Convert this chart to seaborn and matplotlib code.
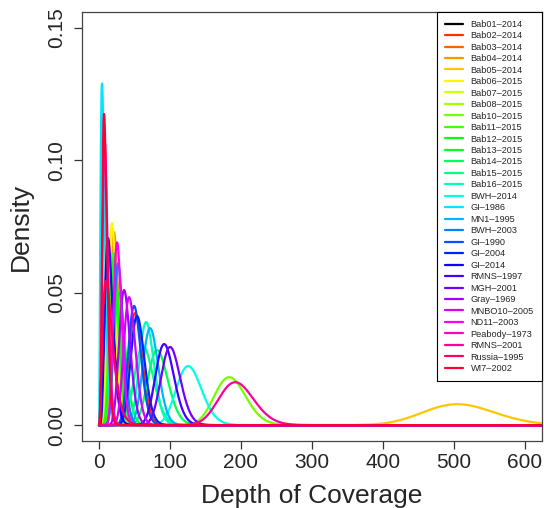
import math
import numpy as np
import pandas as pd
import matplotlib
matplotlib.use("Agg")
import matplotlib.pyplot as plt
import seaborn as sns
import colorsys

# ---- data (mode of each density curve, and its peak height)
samples = ["Bab01-2014", "Bab02-2014", "Bab03-2014", "Bab04-2014", "Bab05-2014",
           "Bab06-2015", "Bab07-2015", "Bab08-2015", "Bab10-2015", "Bab11-2015",
           "Bab12-2015", "Bab13-2015", "Bab14-2015", "Bab15-2015", "Bab16-2015",
           "BWH-2014", "GI-1986", "MN1-1995", "BWH-2003", "GI-1990", "GI-2004",
           "GI-2014", "RMNS-1997", "MGH-2001", "Gray-1969", "MNBO10-2005",
           "ND11-2003", "Peabody-1973", "RMNS-2001", "Russia-1995", "WI7-2002"]
peak_depth = [13, 50.8, 22, 21.2, 505,
              18.4, 16, 20, 183.5, 20,
              21.2, 28, 81.9, 62, 66.4,
              125.7, 4.2, 72, 26.8, 49.4, 53.6,
              12.7, 91.8, 100.2, 35.3, 42.4,
              25.4, 8, 192, 9.9, 7.1]
peak_density = [0.066, 0.0423, 0.065, 0.0729, 0.0079,
                0.0763, 0.060, 0.058, 0.0181, 0.065,
                0.063, 0.050, 0.0283, 0.030, 0.0389,
                0.0223, 0.129, 0.0366, 0.061, 0.045, 0.0412,
                0.0706, 0.0306, 0.0295, 0.051, 0.0483,
                0.069, 0.107, 0.0162, 0.0544, 0.1175]

x_ticks = [0, 100, 200, 300, 400, 500, 600]
y_ticks = [0.00, 0.05, 0.10, 0.15]


def gamma_pdf(x, k, theta):
    x = np.asarray(x, dtype=float)
    out = np.zeros_like(x)
    m = x > 0
    out[m] = np.exp((k - 1) * np.log(x[m]) - x[m] / theta - math.lgamma(k) - k * math.log(theta))
    return out


def fit_gamma(mode, height):
    lo, hi = 1.0001, 1e5
    for _ in range(200):
        mid = math.sqrt(lo * hi)
        th = mode / (mid - 1)
        h = float(gamma_pdf(np.array([mode]), mid, th)[0])
        if h < height:
            lo = mid
        else:
            hi = mid
    k = math.sqrt(lo * hi)
    return k, mode / (k - 1)


grid = np.linspace(0, 640, 2000)
frames = []
for name, md, ht in zip(samples, peak_depth, peak_density):
    k, th = fit_gamma(md, ht)
    frames.append(pd.DataFrame({"depth": grid, "density": gamma_pdf(grid, k, th), "sample": name}))
df = pd.concat(frames, ignore_index=True)

# R-style rainbow(31) with first colour replaced by black
colors = ["black"] + [colorsys.hsv_to_rgb(i / 31, 1, 1) for i in range(1, 31)]

sns.set_style("ticks")
plt.rcParams["font.family"] = ["Liberation Sans", "DejaVu Sans"]

fig = plt.figure(figsize=(5.44, 5.08), dpi=100)
ax = fig.add_axes([82 / 544, 1 - 441 / 508, (541.7 - 82) / 544, (441 - 12) / 508])

sns.lineplot(data=df, x="depth", y="density", hue="sample", hue_order=samples,
             palette=colors, linewidth=1.6, sort=False, estimator=None, ax=ax, legend=True)

ax.set_xlim(-24, 624)
ax.set_ylim(-0.006, 0.156)
ax.set_xticks(x_ticks)
ax.set_yticks(y_ticks)
ax.set_xticklabels([str(v) for v in x_ticks], fontsize=15)
ax.set_yticklabels([f"{v:.2f}" for v in y_ticks], fontsize=15, rotation=90, va="center")
ax.tick_params(axis="both", direction="out", length=5.5, width=0.9, color="#333333")
ax.tick_params(axis="x", pad=3.5)
ax.tick_params(axis="y", pad=6)
for s in ax.spines.values():
    s.set_visible(True)
    s.set_color("#444444")
    s.set_linewidth(0.9)
ax.set_xlabel("Depth of Coverage", fontsize=19, labelpad=8)
ax.set_ylabel("Density", fontsize=19, labelpad=10)

handles, labels = ax.get_legend_handles_labels()
leg = ax.legend(handles, [l.replace("-", "\u2013") for l in labels], loc="upper right",
                bbox_to_anchor=(1.0, 1.0), borderaxespad=0, fontsize=6.6,
                frameon=True, fancybox=False, framealpha=1, edgecolor="black",
                handlelength=2.0, handletextpad=0.85, labelspacing=0.27, borderpad=0.85)
leg.get_frame().set_linewidth(0.8)
for h in leg.get_lines():
    h.set_linewidth(1.6)

fig.savefig("out.png", dpi=100)
